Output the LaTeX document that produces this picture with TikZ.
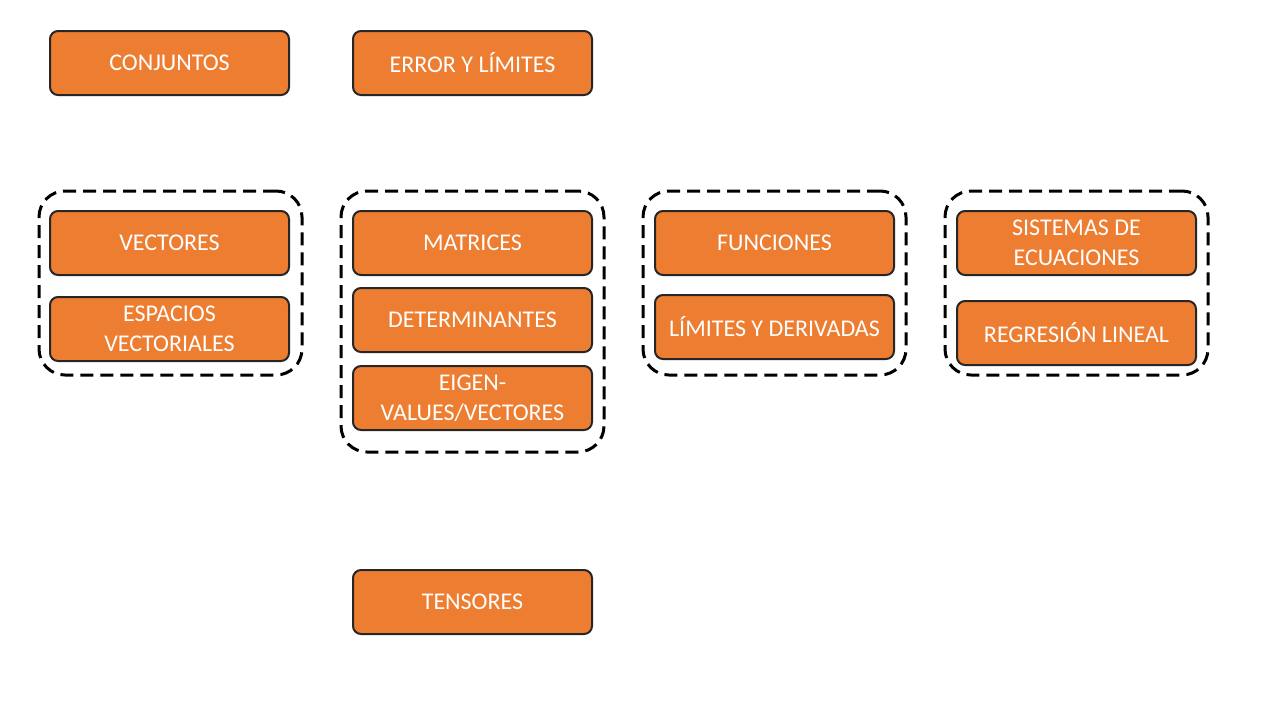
\documentclass[tikz,border=0pt]{standalone}
\usepackage{fontspec}
\setmainfont{Carlito}
\usetikzlibrary{positioning}
\definecolor{topicorange}{HTML}{ED7D31}
\tikzstyle{Topic} = [draw=black!85, line width=1pt, fill=topicorange, rounded corners=4pt, minimum width=119.5pt, minimum height=32pt, text=white, align=center, font=\fontsize{12}{15}\selectfont]
\tikzstyle{Group} = [draw, line width=1.5pt, dash pattern=on 6.5pt off 3.5pt, rounded corners=13pt, minimum width=131.5pt, minimum height=92pt]

\begin{document}
\begin{tikzpicture}[x=0.5pt, y=-0.5pt]
    \useasboundingbox[fill=white] (0,0) rectangle (1280,720);
    % dashed groups
    \node[Group]                        (g1) at (170.5,283)   {};
    \node[Group, minimum height=130.5pt] (g2) at (472.5,321.5) {};
    \node[Group]                        (g3) at (774.5,283)   {};
    \node[Group]                        (g4) at (1076.5,283)  {};
    % topics
    \node[Topic] (conj)   at (169.5,63)  {CONJUNTOS};
    \node[Topic] (error)  at (472.5,63)  {ERROR Y LÍMITES};
    \node[Topic] (vect)   at (169.5,243) {VECTORES};
    \node[Topic] (esp)    [below=10pt of vect]  {ESPACIOS\\VECTORIALES};
    \node[Topic] (matr)   at (472.5,243) {MATRICES};
    \node[Topic] (det)    [below=5.5pt of matr] {DETERMINANTES};
    \node[Topic] (eigen)  [below=6pt of det]    {EIGEN-\\VALUES/VECTORES};
    \node[Topic] (func)   at (774.5,243) {FUNCIONES};
    \node[Topic] (lim)    [below=9pt of func]   {LÍMITES Y DERIVADAS};
    \node[Topic] (sist)   at (1076.5,243) {SISTEMAS DE\\ECUACIONES};
    \node[Topic] (regr)   [below=12pt of sist]  {REGRESIÓN LINEAL};
    \node[Topic] (tens)   at (472.5,602) {TENSORES};
\end{tikzpicture}
\end{document}
